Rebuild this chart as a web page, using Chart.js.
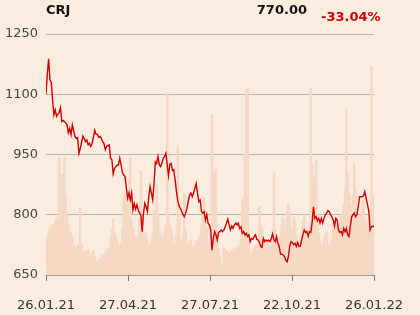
<!DOCTYPE html>
<html><head><meta charset="utf-8">
<script src="https://cdn.jsdelivr.net/npm/chart.js@4"></script>
<style>
html,body{margin:0;padding:0;background:#fbece0;}
#wrap{position:relative;width:420px;height:315px;overflow:hidden;}
canvas{position:absolute;left:0;top:0;}
.h{position:absolute;font-family:"DejaVu Sans";font-weight:bold;font-size:13px;line-height:1;white-space:nowrap;}
</style></head><body>
<div id="wrap">
<canvas id="c" width="420" height="315"></canvas>
<div class="h" id="sym" style="left:46px;top:3px;color:#111"></div>
<div class="h" id="last" style="right:113px;top:3px;color:#111"></div>
<div class="h" id="chg" style="left:321px;top:10px;color:#d40000"></div>
</div>
<script>
const symbol = 'CRJ';
const lastPrice = '770.00';
const changePct = '-33.04%';
const tickLabels = ['26.01.21','27.04.21','27.07.21','22.10.21','26.01.22'];
const yTicks = [650, 800, 950, 1100, 1250];
const prices = [
1100,1150,1188,1136,1130,1086,1049,1061,1045,1050,
1055,1066,1032,1035,1032,1028,1024,1004,1015,999,
1024,1009,995,990,992,953,965,980,996,990,
982,986,974,978,970,978,993,1010,1000,1000,
993,995,990,982,977,962,970,972,974,941,
937,902,915,920,924,924,941,924,905,899,
895,866,841,854,837,854,812,827,814,825,
812,804,800,758,804,829,820,808,845,870,
854,837,878,932,928,945,924,920,928,941,
945,953,924,897,926,928,910,912,887,858,
835,822,816,808,800,795,804,816,833,849,
854,845,854,866,878,854,833,837,808,804,
808,787,800,779,775,762,712,741,758,750,
737,756,758,762,758,762,770,779,789,775,
762,772,766,775,779,775,779,766,770,754,
758,750,754,746,750,733,741,739,746,750,
739,737,731,721,719,741,733,737,734,737,
733,741,752,737,733,746,729,721,702,702,
700,696,687,683,696,721,733,731,725,729,
721,731,721,722,737,750,762,756,758,746,
758,756,780,820,791,795,785,791,779,791,
779,791,800,804,810,808,800,795,787,772,
791,787,762,756,758,750,766,758,766,750,
746,771,795,800,804,795,800,820,845,845,
845,847,858,841,825,810,762,770,772,770
];
const volumes = [
39,36,42,47,45, 50,48,53,57,55,
117,90,100,85,117, 80,60,50,39,42,
37,30,27,25,30, 24,67,30,22,17,
24,20,25,22,17, 20,24,18,14,9,
12,17,15,20,18, 22,25,20,28,37,
45,56,44,38,34, 30,27,32,45,77,
80,70,77,95,117, 54,47,40,36,34,
40,55,104,60,44, 40,42,35,24,30,
34,40,64,50,91, 60,47,40,34,38,
44,50,181,60,50, 45,40,32,27,40,
129,60,30,35,40, 81,45,27,30,34,
34,28,24,30,34, 34,38,40,50,60,
77,55,47,35,30, 47,160,104,100,106,
34,25,17,10,7, 27,25,24,22,20,
22,24,20,27,25, 27,30,27,40,74,
77,120,185,185,34, 17,20,24,27,30,
24,30,69,50,47, 35,27,25,30,28,
27,30,45,102,45, 37,27,30,40,50,
57,44,50,64,71, 60,37,45,57,54,
40,27,30,34,40, 54,60,45,27,35,
50,186,111,100,94, 114,60,41,34,30,
27,35,40,44,30, 24,30,34,45,57,
50,45,50,54,60, 54,70,84,165,100,
81,70,67,80,111, 84,50,57,47,60,
67,77,57,50,47, 55,67,208,80,57
];

document.getElementById('sym').textContent = symbol;
document.getElementById('last').textContent = lastPrice;
document.getElementById('chg').textContent = changePct;

const N = prices.length;
const tickPos = tickLabels.map((_, k) => k * (N - 1) / (tickLabels.length - 1));
const font = {family: 'DejaVu Sans', size: 13};

// draw x-axis tick marks through the x scale
const tickMarks = {
  id: 'tickMarks',
  afterDraw(chart) {
    const s = chart.scales.x, ctx = chart.ctx;
    ctx.save();
    ctx.strokeStyle = '#777';
    ctx.lineWidth = 1;
    ctx.beginPath();
    tickPos.forEach(v => {
      const px = Math.round(s.getPixelForValue(v)) + 0.5;
      ctx.moveTo(px, s.top);
      ctx.lineTo(px, s.top + 6);
    });
    ctx.stroke();
    ctx.restore();
  }
};

new Chart(document.getElementById('c'), {
  type: 'line',
  data: {
    datasets: [
      {type: 'line', data: prices.map((v, i) => ({x: i, y: v})), borderColor: '#d40000', borderWidth: 1.4,
       pointRadius: 0, tension: 0, fill: false, yAxisID: 'y', order: 0},
      {type: 'bar', data: volumes.map((v, i) => ({x: i, y: v})), backgroundColor: '#f6d9c4', borderWidth: 0,
       barThickness: 2, yAxisID: 'yv', order: 1}
    ]
  },
  plugins: [tickMarks],
  options: {
    responsive: false, animation: false, devicePixelRatio: 1,
    layout: {padding: {left: 0, right: 34, top: 34, bottom: 0}},
    plugins: {legend: {display: false}, tooltip: {enabled: false}},
    scales: {
      x: {
        type: 'linear', min: 0, max: N - 1, offset: false,
        afterBuildTicks: s => { s.ticks = tickPos.map(v => ({value: v})); },
        afterFit: s => { s.height = 40; },
        ticks: {autoSkip: false, maxRotation: 0, padding: 17, color: '#333', font: font,
                callback: (v, i) => tickLabels[i]},
        grid: {offset: false, drawOnChartArea: false, drawTicks: true, tickLength: 6, color: '#777', tickColor: '#777', tickWidth: 1},
        border: {display: true, color: '#999', width: 1}
      },
      y: {
        min: 650, max: 1250,
        afterBuildTicks: s => { s.ticks = yTicks.map(v => ({value: v})); },
        afterFit: s => { s.width = 46; },
        ticks: {padding: 8, color: '#444', font: font, callback: v => String(v)},
        grid: {color: '#b5b5b5', drawTicks: false},
        border: {display: false}
      },
      yv: {display: false, min: 0, max: 240}
    }
  }
});
</script>
</body></html>
